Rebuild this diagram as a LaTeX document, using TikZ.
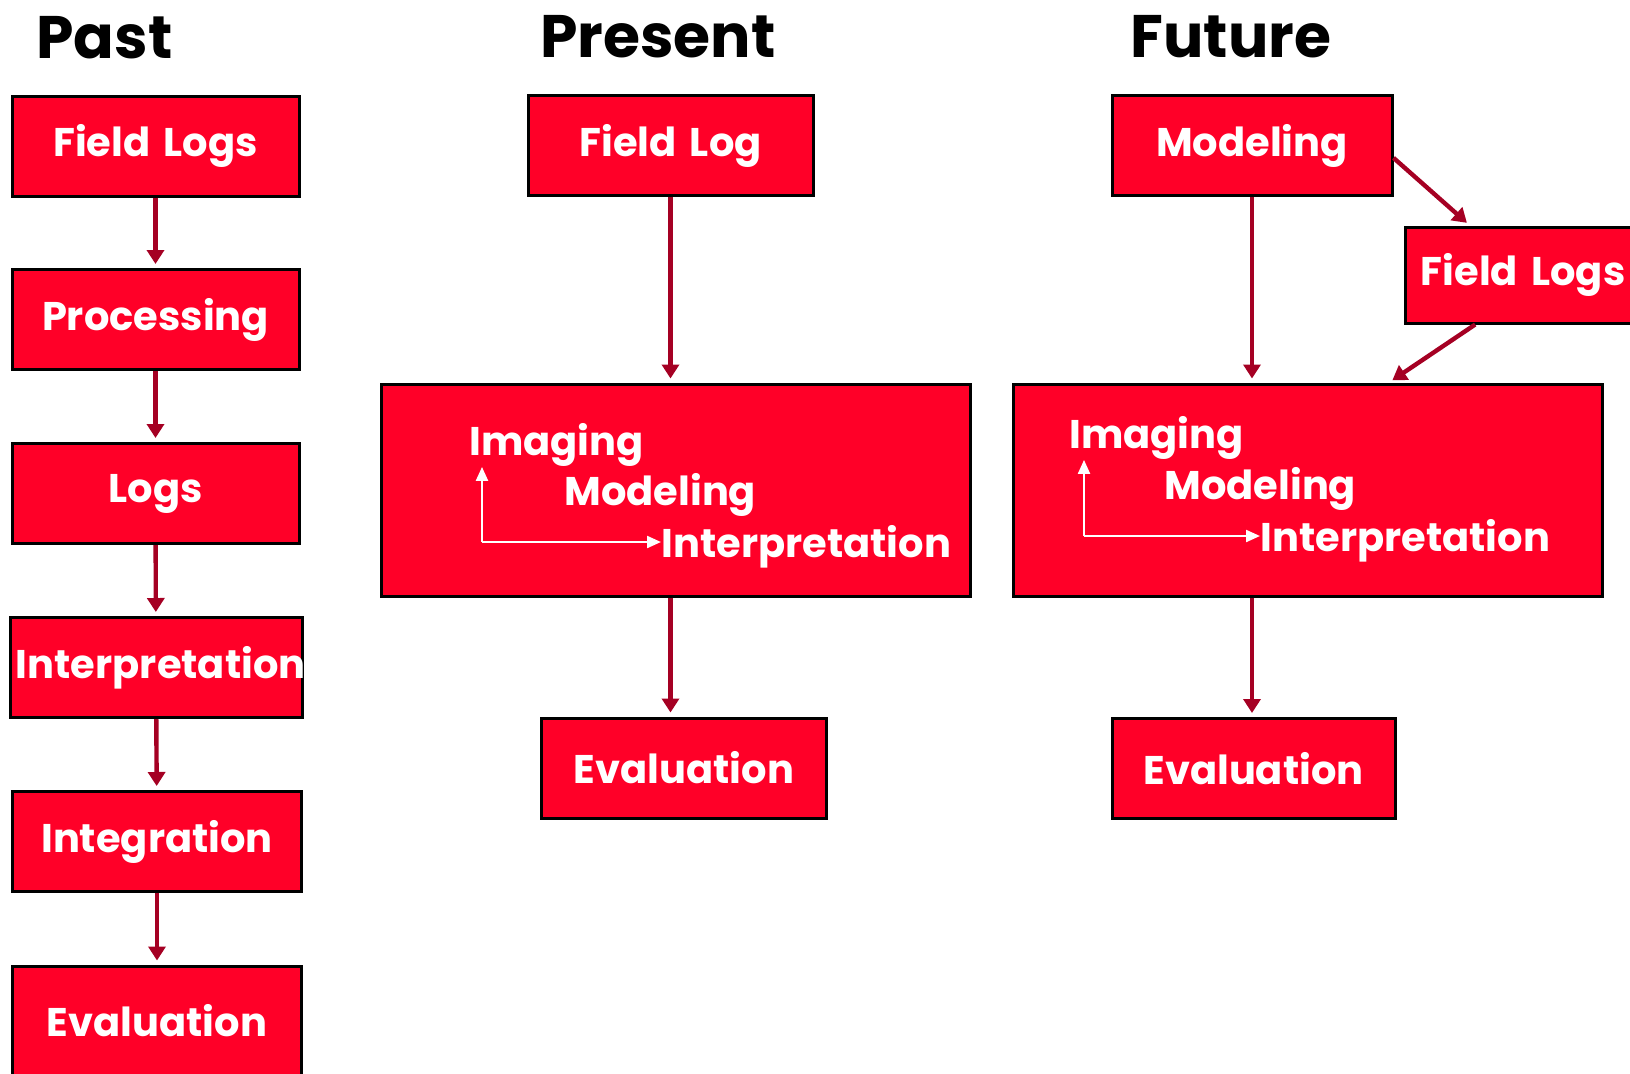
\documentclass[tikz,border=0pt]{standalone}
\usepackage{fontspec}
\setmainfont{Poppins}
\usepackage{tikz}
\usetikzlibrary{arrows.meta}
\definecolor{boxred}{RGB}{255,0,40}
\definecolor{arrowred}{RGB}{165,0,35}

\begin{document}
\begin{tikzpicture}[x=0.5pt, y=-0.5pt,
    box/.style={draw=black, line width=1.5pt, fill=boxred, text=white,
        font=\bfseries\fontsize{20}{24}\selectfont, text width=#1,
        minimum height=50pt, inner xsep=3pt, align=center},
    flow/.style={-{Triangle[length=7pt,width=8.5pt]}, line width=2.2pt, arrowred, shorten >=2pt},
    inner/.style={text=white, font=\bfseries\fontsize{20}{24}\selectfont, inner sep=0pt, anchor=west},
    loop/.style={-{Triangle[length=7pt,width=6pt]}, white, line width=1.1pt},
    heading/.style={font=\bfseries\fontsize{30}{36}\selectfont, anchor=west, inner sep=0pt}]
    \useasboundingbox (0,0) rectangle (1630,1073);

    % headings
    \node[heading] (pTitle) at (36,38) {Past};
    \node[heading] (rTitle) at (540,37) {Present};
    \node[heading] (fTitle) at (1130,37) {Future};

    % past
    \node[box=137.5pt] (pFieldLogs)   at (155.5,146)   {Field Logs};
    \node[box=137.5pt] (pProcessing)  at (155.5,319.5) {Processing};
    \node[box=137.5pt] (pLogs)        at (155.5,493.5) {Logs};
    \node[box=140pt]   (pInterp)      at (156,667.5)   {Interpretation};
    \node[box=138.5pt] (pIntegration) at (157,841.5)   {Integration};
    \node[box=138.5pt, minimum height=55pt] (pEvaluation) at (157,1021) {Evaluation};
    \draw[flow] (pFieldLogs) -- (pProcessing);
    \draw[flow] (pProcessing) -- (pLogs);
    \draw[flow] (pLogs) -- (pInterp);
    \draw[flow] (pInterp) -- (pIntegration);
    \draw[flow] (pIntegration) -- (pEvaluation);

    % present
    \node[box=136.5pt] (rFieldLog) at (670.5,145.5) {Field Log};
    \node[box=288.75pt, minimum height=106pt] (rBig) at (676,490) {};
    \node[box=136.5pt] (rEvaluation) at (684,768) {Evaluation};
    \node[inner] (rImg) at (469,445) {Imaging};
    \node[inner] (rMod) at (564,495) {Modeling};
    \node[inner] (rInt) at (661,547) {Interpretation};
    \coordinate (rCorner) at (482,542);
    \draw[loop] (rCorner) -- (rCorner |- rImg.south);
    \draw[loop] (rCorner) -- (rInt.west |- rCorner);
    \draw[flow] (rFieldLog) -- (rFieldLog |- rBig.north);
    \draw[flow] (rFieldLog |- rBig.south) -- (rFieldLog |- rEvaluation.north);

    % future
    \node[box=134pt] (fModeling) at (1252,145.5) {Modeling};
    \node[box=112pt, minimum height=48pt] (fFieldLogs) at (1523,275) {Field Logs};
    \node[box=288.75pt, minimum height=106pt] (fBig) at (1308,490) {};
    \node[box=135.5pt] (fEvaluation) at (1253.5,768.5) {Evaluation};
    \node[inner] (fImg) at (1069,438) {Imaging};
    \node[inner] (fMod) at (1164,489) {Modeling};
    \node[inner] (fInt) at (1260,541) {Interpretation};
    \coordinate (fCorner) at (1084,536);
    \draw[loop] (fCorner) -- (fCorner |- fImg.south);
    \draw[loop] (fCorner) -- (fInt.west |- fCorner);
    \draw[flow] (fModeling) -- (fModeling |- fBig.north);
    \draw[flow] (fModeling.-5) -- (fFieldLogs.137);
    \draw[flow] (fFieldLogs.226) -- (fBig.53);
    \draw[flow] (fModeling |- fBig.south) -- (fModeling |- fEvaluation.north);
\end{tikzpicture}
\end{document}
